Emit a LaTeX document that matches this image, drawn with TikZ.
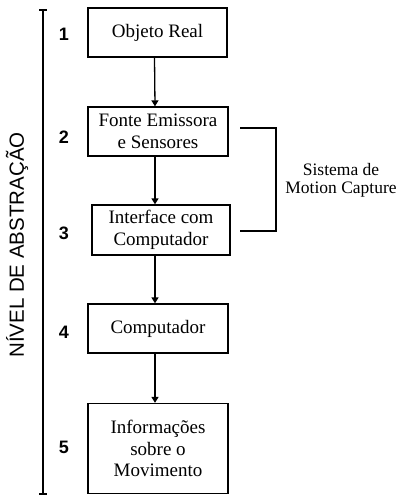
\documentclass[tikz,border=0pt]{standalone}
\usepackage{fontspec}
\setmainfont{Liberation Serif}
\newfontfamily\arialfont{Liberation Sans}
\usetikzlibrary{arrows.meta}
\begin{document}
\begin{tikzpicture}[x=1pt,y=-1pt,
  box/.style={draw,line width=1.3pt,minimum width=140pt,minimum height=49pt,inner sep=0pt,align=center,font=\fontsize{19}{21.5}\selectfont},
  arr/.style={line width=1.3pt,-{Triangle[width=7pt,length=6pt]}},
  num/.style={font=\arialfont\bfseries\fontsize{18}{20}\selectfont},
  line/.style={line width=1.3pt}]
\useasboundingbox (0,0) rectangle (398,497);
\node[box,minimum width=139pt] (b1) at (157.5,32.5) {Objeto Real};
\node[box] (b2) at (158,131.5) {Fonte Emissora\\e Sensores};
\node[box,minimum width=138pt,minimum height=50pt] (b3) at (161,230) {Interface com\\Computador};
\node[box] (b4) at (158,328.5) {Computador};
\node[box,minimum height=90pt] (b5) at (158,448.5) {Informações\\sobre o\\Movimento};
\draw[arr] ([xshift=-3pt]b1.south) -- ([xshift=-3pt]b2.north);
\draw[arr] ([xshift=-3pt]b2.south) -- ([xshift=-6pt]b3.north);
\draw[arr] ([xshift=-6pt]b3.south) -- ([xshift=-3pt]b4.north);
\draw[arr] ([xshift=-3pt]b4.south) -- ([xshift=-3pt]b5.north);
% axis
\coordinate (at) at (43,10);
\coordinate (ab) at (43,494);
\draw[line] (at) -- (ab);
\draw[line] ([xshift=-4pt]at) -- ([xshift=4pt]at);
\draw[line] ([xshift=-4pt]ab) -- ([xshift=4pt]ab);
\node[rotate=90,font=\arialfont\fontsize{20.5}{22}\selectfont] (lab) at (17,245) {NÍVEL DE ABSTRAÇÃO};
\node[num] (n1) at (64,34) {1};
\node[num] (n2) at (64,137) {2};
\node[num] (n3) at (64,233) {3};
\node[num] (n4) at (64,332) {4};
\node[num] (n5) at (64,447) {5};
% bracket
\coordinate (bt) at (240,128);
\coordinate (bb) at (240,231);
\draw[line] (bt) -- ++(36,0) |- (bb);
\node[align=center,inner sep=0pt,font=\fontsize{17.5}{18}\selectfont] (mc) at (341,180) {Sistema de\\Motion Capture};
\end{tikzpicture}
\end{document}
